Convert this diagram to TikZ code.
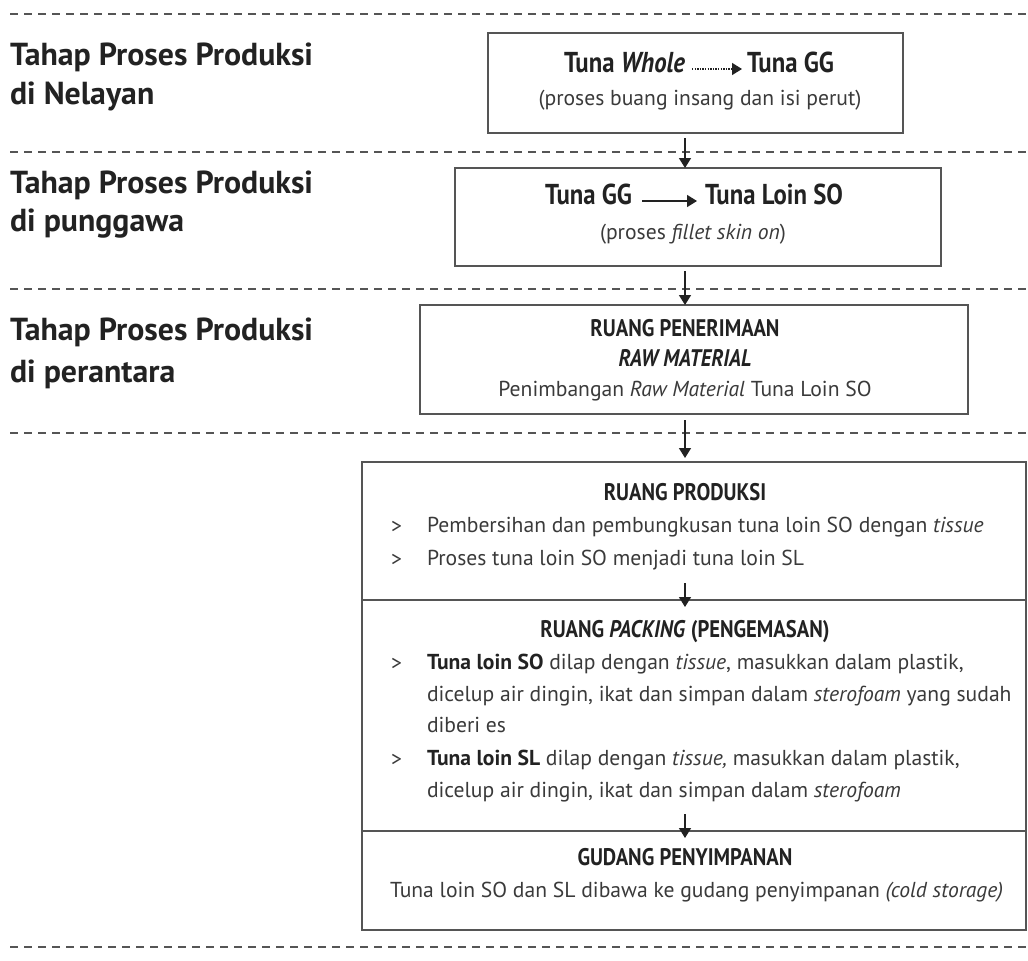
\documentclass[tikz,border=0pt]{standalone}
\usepackage{fontspec}
\setmainfont{PT Sans}
\newfontfamily\headfont[FakeStretch=0.86]{PT Sans}
\usetikzlibrary{arrows.meta}
\definecolor{ink}{HTML}{222222}
\definecolor{bodytext}{HTML}{3A3A3A}
\definecolor{frame}{HTML}{555555}
\newlength\probewd
% font sizes chosen so that one sample line of each kind has the intended width
\newcommand\fitsize[3]{%
  \settowidth\probewd{\fontsize{10pt}{12pt}\selectfont #3}%
  \pgfmathsetmacro#1{10*#2/\probewd}}
\begin{document}
\fitsize\bodysz{613}{Tuna loin SO dan SL dibawa ke gudang penyimpanan \textit{(cold storage)}}%
\fitsize\headsz{215}{\headfont\bfseries GUDANG PENYIMPANAN}%
\fitsize\leadsz{138}{\headfont\bfseries Tuna Loin SO}%
\fitsize\stagesz{303}{\bfseries Tahap Proses Produksi}%
\begin{tikzpicture}[x=1pt,y=-1pt,
  every node/.style={inner sep=0pt, outer sep=0pt},
  txt/.style={font=\fontsize{\bodysz pt}{\bodysz pt}\selectfont, text=bodytext, text height=0.7em, text depth=0pt},
  head/.style={font=\fontsize{\headsz pt}{\headsz pt}\headfont\bfseries, text=ink, text height=0.7em, text depth=0pt},
  lead/.style={font=\fontsize{\leadsz pt}{\leadsz pt}\headfont\bfseries, text=ink, text height=0.7em, text depth=0pt},
  stage/.style={font=\fontsize{\stagesz pt}{\stagesz pt}\selectfont\bfseries, text=ink, anchor=west, text height=0.7em, text depth=0pt},
  bullet/.style={txt, anchor=west},
  box/.style={draw=frame, line width=1.8pt, rectangle},
  sep/.style={draw=frame, line width=2.4pt, dash pattern=on 8pt off 6pt},
  arr/.style={draw=ink, line width=1.5pt, -{Triangle[length=10pt,width=12pt]}},
  dotarr/.style={draw=ink, line width=1.4pt, dash pattern=on 1.3pt off 1.3pt, -{Triangle[length=10pt,width=12pt]}},
]
\useasboundingbox (0,0) rectangle (1028,961);

% horizontal stage separators
\foreach \yy in {14,152,289,433,947}
  \draw[sep] (10,\yy) -- (1028,\yy);

% stage labels
\node[stage] (s1a) at (10,62)  {Tahap Proses Produksi};
\node[stage] (s1b) at (10,101) {di Nelayan};
\node[stage] (s2a) at (10,190) {Tahap Proses Produksi};
\node[stage] (s2b) at (10,228) {di punggawa};
\node[stage] (s3a) at (10,337) {Tahap Proses Produksi};
\node[stage] (s3b) at (10,379) {di perantara};

% boxes
\node[box, minimum width=415pt, minimum height=100pt] (b1) at (695.5,83) {};
\node[box, minimum width=486pt, minimum height=98pt]  (b2) at (698,217) {};
\node[box, minimum width=548pt, minimum height=109pt] (b3) at (694,359.5) {};
\node[box, minimum width=664pt, minimum height=138pt] (prod) at (694,531) {};
\node[box, minimum width=664pt, minimum height=231pt] (pack) at (694,715.5) {};
\node[box, minimum width=664pt, minimum height=99pt]  (gud) at (694,880.5) {};

\coordinate (ax) at (685,0);

% box 1
\node[lead, anchor=east] (tw) at (685,69) {Tuna \textit{Whole}};
\node[lead, anchor=west] (tgg) at (747,69) {Tuna GG};
\draw[dotarr] ([xshift=7pt]tw.east) -- ([xshift=-5pt]tgg.west);
\node[txt] (b1t) at (700,102) {(proses buang insang dan isi perut)};

% box 2
\node[lead, anchor=east] (gg2) at (632,201) {Tuna GG};
\node[lead, anchor=west] (tls) at (705,201) {Tuna Loin SO};
\draw[arr] ([xshift=10pt]gg2.east) -- ([xshift=-8pt]tls.west);
\node[txt] (b2t) at (693,236) {(proses \textit{fillet skin on})};

% box 3
\node[head] (b3h) at (685,333) {RUANG PENERIMAAN};
\node[head, font=\fontsize{\headsz pt}{\headsz pt}\headfont\bfseries\itshape] (b3r) at (685,363) {RAW MATERIAL};
\node[txt] (b3t) at (685,393) {Penimbangan \textit{Raw Material} Tuna Loin SO};

% production room
\node[head] (ph) at (685,497) {RUANG PRODUKSI};
\node[bullet] (pg1) at (391,530) {>};
\node[bullet] (p1) at (427,529) {Pembersihan dan pembungkusan tuna loin SO dengan \textit{tissue}};
\node[bullet] (pg2) at (391,563) {>};
\node[bullet] (p2) at (427,562) {Proses tuna loin SO menjadi tuna loin SL};

% packing room
\node[head] (kh) at (685,634) {RUANG \textit{PACKING} (PENGEMASAN)};
\node[bullet] (kg1) at (391,667) {>};
\node[bullet] (k1) at (427,666) {\textbf{\color{ink}Tuna loin SO} dilap dengan \textit{tissue}, masukkan dalam plastik,};
\node[bullet] (k2) at (427,698) {dicelup air dingin, ikat dan simpan dalam \textit{sterofoam} yang sudah};
\node[bullet] (k3) at (427,729) {diberi es};
\node[bullet] (kg2) at (391,763) {>};
\node[bullet] (k4) at (427,762) {\textbf{\color{ink}Tuna loin SL} dilap dengan \textit{tissue,} masukkan dalam plastik,};
\node[bullet] (k5) at (427,794) {dicelup air dingin, ikat dan simpan dalam \textit{sterofoam}};

% storage
\node[head] (gh) at (685,862) {GUDANG PENYIMPANAN};
\node[txt] (gt) at (696.5,894) {Tuna loin SO dan SL dibawa ke gudang penyimpanan \textit{(cold storage)}};

% flow arrows
\draw[arr] ([yshift=-5pt]b1.south -| ax) -- (b2.north -| ax);
\draw[arr] ([yshift=-5pt]b2.south -| ax) -- (b3.north -| ax);
\draw[arr] ([yshift=-6pt]b3.south -| ax) -- ([yshift=4pt]prod.north -| ax);
\draw[arr] ([yshift=17pt]pack.north -| ax) -- ([yshift=-7pt]pack.north -| ax);
\draw[arr] ([yshift=17pt]gud.north -| ax) -- ([yshift=-7pt]gud.north -| ax);
\end{tikzpicture}
\end{document}
